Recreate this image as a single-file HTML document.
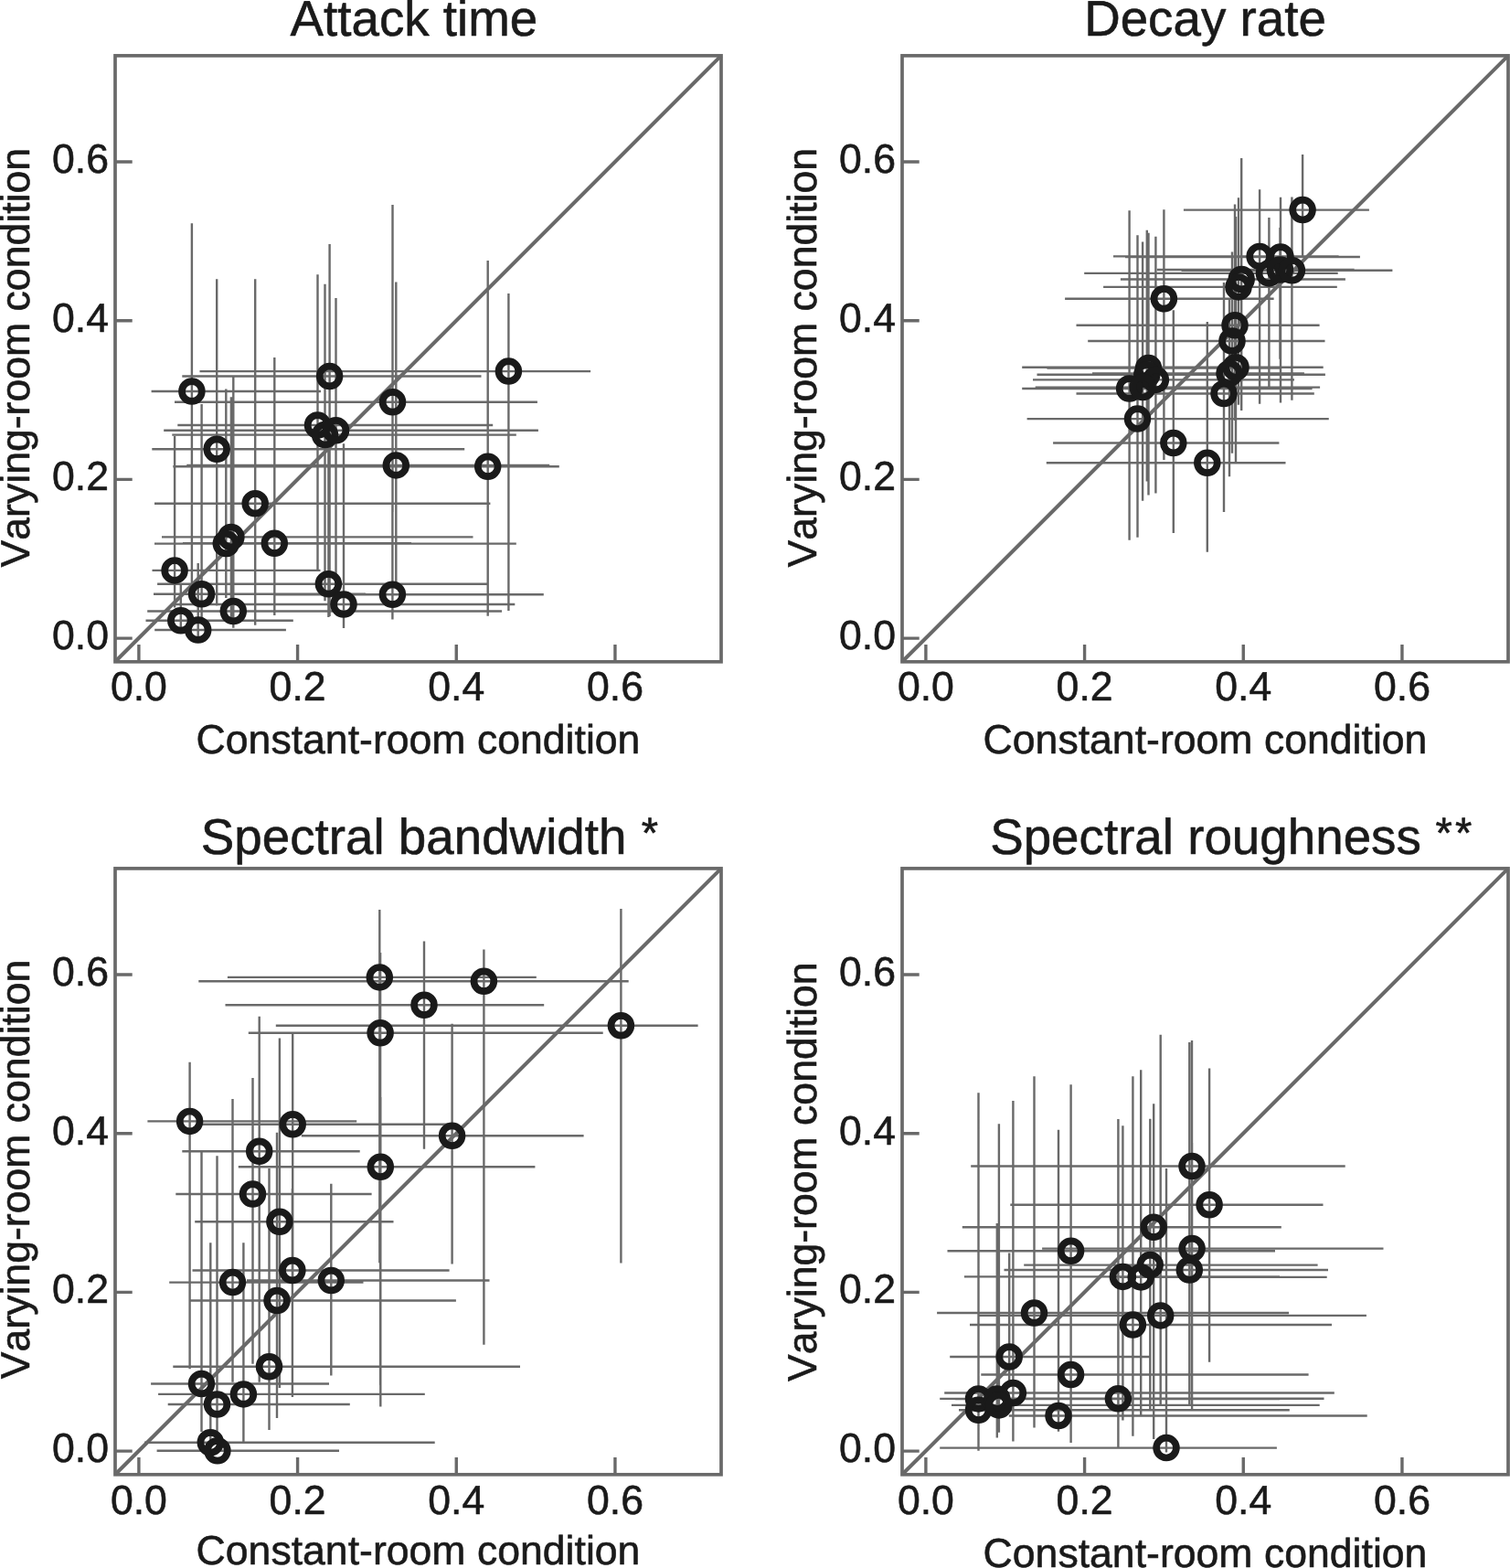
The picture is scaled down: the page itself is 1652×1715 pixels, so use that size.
<!DOCTYPE html>
<html lang="en"><head><meta charset="utf-8"><title>Feature correlations: constant-room vs varying-room condition</title>
<style>html,body{margin:0;padding:0;background:#fff}body{width:1652px;height:1715px;overflow:hidden}svg{display:block}text{font-family:"Liberation Sans",sans-serif;fill:#1a1a1a;stroke:#1a1a1a;stroke-width:0.6px;stroke-linejoin:round;font-kerning:none;text-rendering:geometricPrecision}.t{font-size:54.75px}.l{font-size:44.6px}.a{font-size:47px}.eb{stroke:#696969;stroke-width:2.4;fill:none}.m{stroke:#1a1a1a;stroke-width:7.7;fill:none}</style></head><body>
<svg width="1652" height="1715" viewBox="0 0 1652 1715">
<rect width="1652" height="1715" fill="#fff"/>
<g transform="translate(0,0)">
<line x1="126" y1="723.8" x2="789" y2="60.9" stroke="#696969" stroke-width="4.1"/>
<path d="M151.9 723.8V705.1M126 698.1H144.7M325.58 723.8V705.1M126 524.42H144.7M499.26 723.8V705.1M126 350.74H144.7M672.94 723.8V705.1M126 177.06H144.7" stroke="#696969" stroke-width="3.4" fill="none"/>
</g>
<path class="eb" d="M165.6 428H351M209.9 244.3V654.3M199.3 411.5H526.5M360.6 267V674M218.5 406.1H646.1M556.4 321.1V668M191 439.7H587.9M429.5 223.9V560M194.3 465H539.2M347.5 300.2V624M188.3 475.6H564.8M355.5 310.8V657.3M179.2 470.8H588.9M367.5 326.1V646M166.3 491.3H508.2M237.2 305.2V662.4M204.2 508.9H601.2M433.3 308.5V640M189.3 510.2H611.8M533.7 285V673.7M169 550.8H536.4M279.2 305.2V683.8M177 587.4H517.5M252.9 434.3V676M169 594.6H564.8M247.3 425.5V654M200 594.3H450M300.3 391V673M166.5 623.9H350.5M191.1 476.9V664.5M168 649.8H400M220.6 442V680M172.1 638.7H532.7M359.4 490V674.9M192 661H563.3M376 485.2V686.9M300 650.2H594.8M429.4 550V677.5M161.2 668.5H549.1M255.3 412.5V686.8M159.5 678.8H320.8M197.8 639.5V686M169.2 689H312.9M216.7 616V696"/>
<g transform="translate(0,0)">
<rect x="126" y="60.9" width="663" height="662.9" fill="none" stroke="#696969" stroke-width="3.7"/>
</g>
<g class="m">
<circle cx="209.9" cy="428" r="10.9"/>
<circle cx="360.6" cy="411.5" r="10.9"/>
<circle cx="556.4" cy="406.1" r="10.9"/>
<circle cx="429.5" cy="439.7" r="10.9"/>
<circle cx="347.5" cy="465" r="10.9"/>
<circle cx="355.5" cy="475.6" r="10.9"/>
<circle cx="367.5" cy="470.8" r="10.9"/>
<circle cx="237.2" cy="491.3" r="10.9"/>
<circle cx="433.3" cy="508.9" r="10.9"/>
<circle cx="533.7" cy="510.2" r="10.9"/>
<circle cx="279.2" cy="550.8" r="10.9"/>
<circle cx="252.9" cy="587.4" r="10.9"/>
<circle cx="247.3" cy="594.6" r="10.9"/>
<circle cx="300.3" cy="594.3" r="10.9"/>
<circle cx="191.1" cy="623.9" r="10.9"/>
<circle cx="220.6" cy="649.8" r="10.9"/>
<circle cx="359.4" cy="638.7" r="10.9"/>
<circle cx="376" cy="661" r="10.9"/>
<circle cx="429.4" cy="650.2" r="10.9"/>
<circle cx="255.3" cy="668.5" r="10.9"/>
<circle cx="197.8" cy="678.8" r="10.9"/>
<circle cx="216.7" cy="689" r="10.9"/>
</g>
<g transform="translate(0,0)">
<text class="t" x="452.9" y="39" text-anchor="middle">Attack time</text>
<text class="l" x="457.5" y="823.5" text-anchor="middle">Constant-room condition</text>
<text class="l" transform="translate(31.8,391.2) rotate(-90)" text-anchor="middle">Varying-room condition</text>
<text class="l" x="151.9" y="766.3" text-anchor="middle">0.0</text>
<text class="l" x="119" y="710" text-anchor="end">0.0</text>
<text class="l" x="325.58" y="766.3" text-anchor="middle">0.2</text>
<text class="l" x="119" y="536.32" text-anchor="end">0.2</text>
<text class="l" x="499.26" y="766.3" text-anchor="middle">0.4</text>
<text class="l" x="119" y="362.64" text-anchor="end">0.4</text>
<text class="l" x="672.94" y="766.3" text-anchor="middle">0.6</text>
<text class="l" x="119" y="188.96" text-anchor="end">0.6</text>
</g>
<g transform="translate(861,0)">
<line x1="126" y1="723.8" x2="789" y2="60.9" stroke="#696969" stroke-width="4.1"/>
<path d="M151.9 723.8V705.1M126 698.1H144.7M325.58 723.8V705.1M126 524.42H144.7M499.26 723.8V705.1M126 350.74H144.7M672.94 723.8V705.1M126 177.06H144.7" stroke="#696969" stroke-width="3.4" fill="none"/>
</g>
<path class="eb" d="M1294.9 229.6H1497.9M1425.1 169.1V281M1218 280.4H1464.6M1378.1 207.2V441.7M1231 281H1487.9M1401 215.7V440.5M1186.2 298.9H1463.7M1388.4 238.1V423.5M1265.9 295H1481.6M1400.4 249V392.7M1292.5 295.7H1523.4M1413.4 215.4V437.8M1225.9 305.5H1471.9M1358.2 173.1V449M1207.1 313.9H1462.8M1355 216.3V442.7M1165.1 326.8H1393.6M1273.4 229.3V503M1177.5 355.8H1443.6M1351 223.6V460M1190.2 373H1449.5M1348 275.5V495.7M1118.2 401.7H1447.7M1352 236.9V506M1195 408.4H1426.9M1345 327V521.2M1177.5 430.5H1437.8M1339 309.1V559.9M1145.4 402.6H1400M1256.5 254.7V541.5M1134.5 409.7H1449.9M1254.8 251.8V526.5M1130 415.4H1416M1264.4 258.7V539.5M1118.2 425H1435.6M1235.6 230.3V590.7M1132.7 423.6H1444.1M1250.1 264.5V547.7M1123.6 458.1H1453.75M1244.5 257.3V587.7M1152.1 484.5H1399.4M1283.8 339.2V582.9M1144.8 506.2H1406.5M1320.8 351.9V603.7"/>
<g transform="translate(861,0)">
<rect x="126" y="60.9" width="663" height="662.9" fill="none" stroke="#696969" stroke-width="3.7"/>
</g>
<g class="m">
<circle cx="1425.1" cy="229.6" r="10.9"/>
<circle cx="1378.1" cy="280.4" r="10.9"/>
<circle cx="1401" cy="281" r="10.9"/>
<circle cx="1388.4" cy="298.9" r="10.9"/>
<circle cx="1400.4" cy="295" r="10.9"/>
<circle cx="1413.4" cy="295.7" r="10.9"/>
<circle cx="1358.2" cy="305.5" r="10.9"/>
<circle cx="1355" cy="313.9" r="10.9"/>
<circle cx="1273.4" cy="326.8" r="10.9"/>
<circle cx="1351" cy="355.8" r="10.9"/>
<circle cx="1348" cy="373" r="10.9"/>
<circle cx="1352" cy="401.7" r="10.9"/>
<circle cx="1345" cy="408.4" r="10.9"/>
<circle cx="1339" cy="430.5" r="10.9"/>
<circle cx="1256.5" cy="402.6" r="10.9"/>
<circle cx="1254.8" cy="409.7" r="10.9"/>
<circle cx="1264.4" cy="415.4" r="10.9"/>
<circle cx="1235.6" cy="425" r="10.9"/>
<circle cx="1250.1" cy="423.6" r="10.9"/>
<circle cx="1244.5" cy="458.1" r="10.9"/>
<circle cx="1283.8" cy="484.5" r="10.9"/>
<circle cx="1320.8" cy="506.2" r="10.9"/>
</g>
<g transform="translate(861,0)">
<text class="t" x="457.5" y="39" text-anchor="middle">Decay rate</text>
<text class="l" x="457.5" y="824" text-anchor="middle">Constant-room condition</text>
<text class="l" transform="translate(31.8,391.2) rotate(-90)" text-anchor="middle">Varying-room condition</text>
<text class="l" x="151.9" y="766.3" text-anchor="middle">0.0</text>
<text class="l" x="119" y="710" text-anchor="end">0.0</text>
<text class="l" x="325.58" y="766.3" text-anchor="middle">0.2</text>
<text class="l" x="119" y="536.32" text-anchor="end">0.2</text>
<text class="l" x="499.26" y="766.3" text-anchor="middle">0.4</text>
<text class="l" x="119" y="362.64" text-anchor="end">0.4</text>
<text class="l" x="672.94" y="766.3" text-anchor="middle">0.6</text>
<text class="l" x="119" y="188.96" text-anchor="end">0.6</text>
</g>
<g transform="translate(0,889)">
<line x1="126" y1="723.8" x2="789" y2="60.9" stroke="#696969" stroke-width="4.1"/>
<path d="M151.9 723.8V705.1M126 698.1H144.7M325.58 723.8V705.1M126 524.42H144.7M499.26 723.8V705.1M126 350.74H144.7M672.94 723.8V705.1M126 177.06H144.7" stroke="#696969" stroke-width="3.4" fill="none"/>
</g>
<path class="eb" d="M248.9 1068.9H586.8M415.3 995V1381.3M271.8 1129.8H659.7M416.1 1041.9V1514.7M246.5 1099.2H595.2M464 1029.5V1256.7M161.4 1226.4H390.2M207.6 1161.8V1497.3M220.8 1229.8H490M320.2 1130.8V1400M199.3 1259.2H393.7M283.7 1111.8V1511.7M260.8 1276.3H585.4M416.3 1200V1538.6M217.3 1073.3H687.7M529.4 1038.5V1470.8M301.8 1121.8H763.6M679.4 994V1381.4M329.8 1242.2H638.6M494.6 1119.8V1382.5M192.3 1306H406.6M276.5 1179.1V1491.7M213.2 1336.3H430.5M305.9 1135.4V1518M210.5 1389.5H491.6M319.9 1300V1528M185.2 1402.6H397.5M254.5 1202V1511.7M270 1400.5H535.5M362.3 1294.7V1504.6M208.7 1422.5H498.9M303 1238.8V1551M189.3 1494.7H569M294.5 1277.9V1563.9M165.1 1513.5H360M220.5 1259.2V1566M173.1 1524.9H464.8M266.4 1359.3V1579M183.7 1536H382.8M237.5 1264.3V1575M158 1577.7H475.7M230.3 1359.3V1580M171.6 1586.8H371M237.9 1572.5V1579"/>
<g transform="translate(0,889)">
<rect x="126" y="60.9" width="663" height="662.9" fill="none" stroke="#696969" stroke-width="3.7"/>
</g>
<g class="m">
<circle cx="415.3" cy="1068.9" r="10.9"/>
<circle cx="416.1" cy="1129.8" r="10.9"/>
<circle cx="464" cy="1099.2" r="10.9"/>
<circle cx="207.6" cy="1226.4" r="10.9"/>
<circle cx="320.2" cy="1229.8" r="10.9"/>
<circle cx="283.7" cy="1259.2" r="10.9"/>
<circle cx="416.3" cy="1276.3" r="10.9"/>
<circle cx="529.4" cy="1073.3" r="10.9"/>
<circle cx="679.4" cy="1121.8" r="10.9"/>
<circle cx="494.6" cy="1242.2" r="10.9"/>
<circle cx="276.5" cy="1306" r="10.9"/>
<circle cx="305.9" cy="1336.3" r="10.9"/>
<circle cx="319.9" cy="1389.5" r="10.9"/>
<circle cx="254.5" cy="1402.6" r="10.9"/>
<circle cx="362.3" cy="1400.5" r="10.9"/>
<circle cx="303" cy="1422.5" r="10.9"/>
<circle cx="294.5" cy="1494.7" r="10.9"/>
<circle cx="220.5" cy="1513.5" r="10.9"/>
<circle cx="266.4" cy="1524.9" r="10.9"/>
<circle cx="237.5" cy="1536" r="10.9"/>
<circle cx="230.3" cy="1577.7" r="10.9"/>
<circle cx="237.9" cy="1586.8" r="10.9"/>
</g>
<g transform="translate(0,889)">
<text class="t" x="452.6" y="45.4" text-anchor="middle">Spectral bandwidth</text>
<text class="a" x="711" y="38" text-anchor="middle">*</text>
<text class="l" x="457.5" y="821.8" text-anchor="middle">Constant-room condition</text>
<text class="l" transform="translate(31.8,390) rotate(-90)" text-anchor="middle">Varying-room condition</text>
<text class="l" x="151.9" y="767.4" text-anchor="middle">0.0</text>
<text class="l" x="119" y="710" text-anchor="end">0.0</text>
<text class="l" x="325.58" y="767.4" text-anchor="middle">0.2</text>
<text class="l" x="119" y="536.32" text-anchor="end">0.2</text>
<text class="l" x="499.26" y="767.4" text-anchor="middle">0.4</text>
<text class="l" x="119" y="362.64" text-anchor="end">0.4</text>
<text class="l" x="672.94" y="767.4" text-anchor="middle">0.6</text>
<text class="l" x="119" y="188.96" text-anchor="end">0.6</text>
</g>
<g transform="translate(861,889)">
<line x1="126" y1="723.8" x2="789" y2="60.9" stroke="#696969" stroke-width="4.1"/>
<path d="M151.9 723.8V705.1M126 698.1H144.7M325.58 723.8V705.1M126 524.42H144.7M499.26 723.8V705.1M126 350.74H144.7M672.94 723.8V705.1M126 177.06H144.7" stroke="#696969" stroke-width="3.4" fill="none"/>
</g>
<path class="eb" d="M1062.2 1275.5H1471.7M1304 1137.9V1400M1105.3 1317.8H1447.5M1323.1 1168.4V1489.7M1052.8 1342.2H1401.8M1262.2 1207.3V1574.1M1140.1 1365.6H1513.5M1304.1 1250V1541.6M1036.5 1368.3H1395M1171.6 1186.3V1480M1120.2 1383.6H1441.6M1258.3 1223.7V1541.6M1098.5 1389H1453M1301.3 1140V1536.3M1054.9 1396.4H1400M1228.4 1231.2V1553.4M1225 1396.9H1451.7M1248.2 1170.2V1548.4M1025.1 1436H1410.1M1131.5 1177.2V1561.6M1070 1438.9H1494.9M1269.7 1131.7V1536.3M1061 1449H1457M1239.4 1177.2V1570.8M1039.2 1484H1258M1104.2 1370.6V1512M1073.3 1503.5H1431.6M1171.6 1400V1577.9M1033.2 1523.5H1459.8M1108.4 1204V1576.5M1100 1529.8H1448.5M1223.4 1224.1V1583.7M1028.2 1529.9H1300M1070.5 1195.2V1560M1049 1542.2H1410.8M1070.5 1500V1586.7M1045 1530H1400M1090.8 1338V1572.6M1041 1536.9H1443.7M1092.9 1229.3V1566.7M1103.8 1548.5H1495.7M1158 1235.8V1565.8M1028.2 1583.6H1396.9M1276 1278.1V1588.5"/>
<g transform="translate(861,889)">
<rect x="126" y="60.9" width="663" height="662.9" fill="none" stroke="#696969" stroke-width="3.7"/>
</g>
<g class="m">
<circle cx="1304" cy="1275.5" r="10.9"/>
<circle cx="1323.1" cy="1317.8" r="10.9"/>
<circle cx="1262.2" cy="1342.2" r="10.9"/>
<circle cx="1304.1" cy="1365.6" r="10.9"/>
<circle cx="1171.6" cy="1368.3" r="10.9"/>
<circle cx="1258.3" cy="1383.6" r="10.9"/>
<circle cx="1301.3" cy="1389" r="10.9"/>
<circle cx="1228.4" cy="1396.4" r="10.9"/>
<circle cx="1248.2" cy="1396.9" r="10.9"/>
<circle cx="1131.5" cy="1436" r="10.9"/>
<circle cx="1269.7" cy="1438.9" r="10.9"/>
<circle cx="1239.4" cy="1449" r="10.9"/>
<circle cx="1104.2" cy="1484" r="10.9"/>
<circle cx="1171.6" cy="1503.5" r="10.9"/>
<circle cx="1108.4" cy="1523.5" r="10.9"/>
<circle cx="1223.4" cy="1529.8" r="10.9"/>
<circle cx="1070.5" cy="1529.9" r="10.9"/>
<circle cx="1070.5" cy="1542.2" r="10.9"/>
<circle cx="1090.8" cy="1530" r="10.9"/>
<circle cx="1092.9" cy="1536.9" r="10.9"/>
<circle cx="1158" cy="1548.5" r="10.9"/>
<circle cx="1276" cy="1583.6" r="10.9"/>
</g>
<g transform="translate(861,889)">
<text class="t" x="458" y="45.4" text-anchor="middle">Spectral roughness</text>
<text class="a" x="718.75" y="38" text-anchor="middle">*</text>
<text class="a" x="740.25" y="38" text-anchor="middle">*</text>
<text class="l" x="457.5" y="825.4" text-anchor="middle">Constant-room condition</text>
<text class="l" transform="translate(31.8,392.7) rotate(-90)" text-anchor="middle">Varying-room condition</text>
<text class="l" x="151.9" y="767.4" text-anchor="middle">0.0</text>
<text class="l" x="119" y="710" text-anchor="end">0.0</text>
<text class="l" x="325.58" y="767.4" text-anchor="middle">0.2</text>
<text class="l" x="119" y="536.32" text-anchor="end">0.2</text>
<text class="l" x="499.26" y="767.4" text-anchor="middle">0.4</text>
<text class="l" x="119" y="362.64" text-anchor="end">0.4</text>
<text class="l" x="672.94" y="767.4" text-anchor="middle">0.6</text>
<text class="l" x="119" y="188.96" text-anchor="end">0.6</text>
</g>
</svg></body></html>
